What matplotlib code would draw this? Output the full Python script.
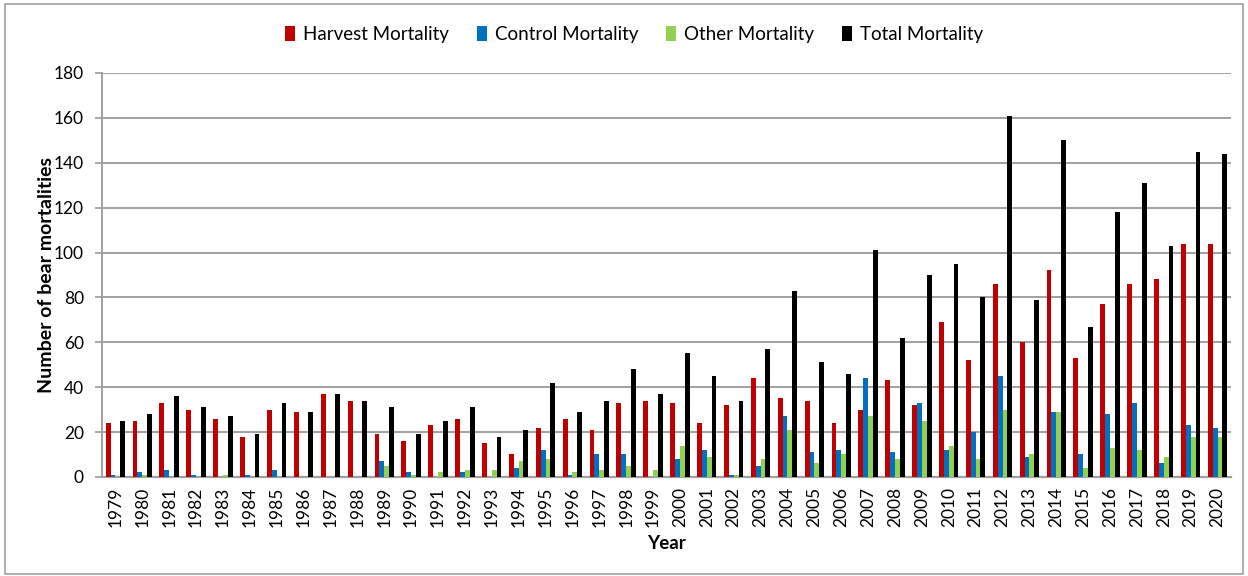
import numpy as np
import matplotlib
matplotlib.use("Agg")
import matplotlib.pyplot as plt
from matplotlib.patches import Rectangle

plt.rcParams['font.family'] = ['Lato', 'DejaVu Sans']

# data
years = list(range(1979, 2021))
harvest = [24, 25, 33, 30, 26, 18, 30, 29, 37, 34, 19, 16, 23, 26, 15, 10, 22, 26, 21, 33, 34,
           33, 24, 32, 44, 35, 34, 24, 30, 43, 32, 69, 52, 86, 60, 92, 53, 77, 86, 88, 104, 104]
control = [1, 2, 3, 1, 0, 1, 3, 0, 0, 0, 7, 2, 0, 2, 0, 4, 12, 1, 10, 10, 0,
           8, 12, 1, 5, 27, 11, 12, 44, 11, 33, 12, 20, 45, 9, 29, 10, 28, 33, 6, 23, 22]
other = [0, 1, 0, 0, 1, 0, 0, 0, 0, 0, 5, 1, 2, 3, 3, 7, 8, 2, 3, 5, 3,
         14, 9, 1, 8, 21, 6, 10, 27, 8, 25, 14, 8, 30, 10, 29, 4, 13, 12, 9, 18, 18]
total = [25, 28, 36, 31, 27, 19, 33, 29, 37, 34, 31, 19, 25, 31, 18, 21, 42, 29, 34, 48, 37,
         55, 45, 34, 57, 83, 51, 46, 101, 62, 90, 95, 80, 161, 79, 150, 67, 118, 131, 103, 145, 144]

series = [("Harvest Mortality", harvest, "#C00000"),
          ("Control Mortality", control, "#0070C0"),
          ("Other Mortality", other, "#92D050"),
          ("Total Mortality", total, "#000000")]

fig = plt.figure(figsize=(12.48, 5.76), dpi=100)
ax = fig.add_axes([0.0817, 0.172, 0.9047, 0.7013])

x = np.arange(len(years))
w = 0.18
for i, (name, vals, col) in enumerate(series):
    ax.bar(x + (i - 1.5) * w, vals, width=w, color=col, label=name, zorder=3)

ax.set_xlim(-0.5, len(years) - 0.5)
ax.set_ylim(0, 180)
ax.set_yticks(range(0, 181, 20))
ax.set_xticks(x)
ax.set_xticklabels([str(y) for y in years], rotation=90, fontsize=12.5)
ax.tick_params(axis='x', length=0, pad=7)
ax.tick_params(axis='y', length=5, color='#999999', width=1.2, labelsize=12.5, pad=8)
ax.grid(axis='y', color='#A0A0A0', linewidth=1.4, zorder=0)

for s in ['top', 'right']:
    ax.spines[s].set_visible(False)
ax.spines['left'].set_color('#A0A0A0')
ax.spines['left'].set_linewidth(1.4)
ax.spines['bottom'].set_color('#A0A0A0')
ax.spines['bottom'].set_linewidth(1.6)

ax.set_xlabel("Year", fontsize=13.5, fontweight='bold', labelpad=6)
ax.set_ylabel("Number of bear mortalities", fontsize=14, fontweight='bold', labelpad=-1)

fig.legend(loc='upper center', bbox_to_anchor=(0.508, 0.985), ncol=4, frameon=False,
           fontsize=13.5, handlelength=0.55, handleheight=0.9, handletextpad=0.4, columnspacing=1.5)

# border around the figure
fig.patches.append(Rectangle((0.004, 0.003), 0.992, 0.99, transform=fig.transFigure,
                             fill=False, edgecolor='#A0A0A0', linewidth=1.2))

fig.savefig("out.png", dpi=100)
